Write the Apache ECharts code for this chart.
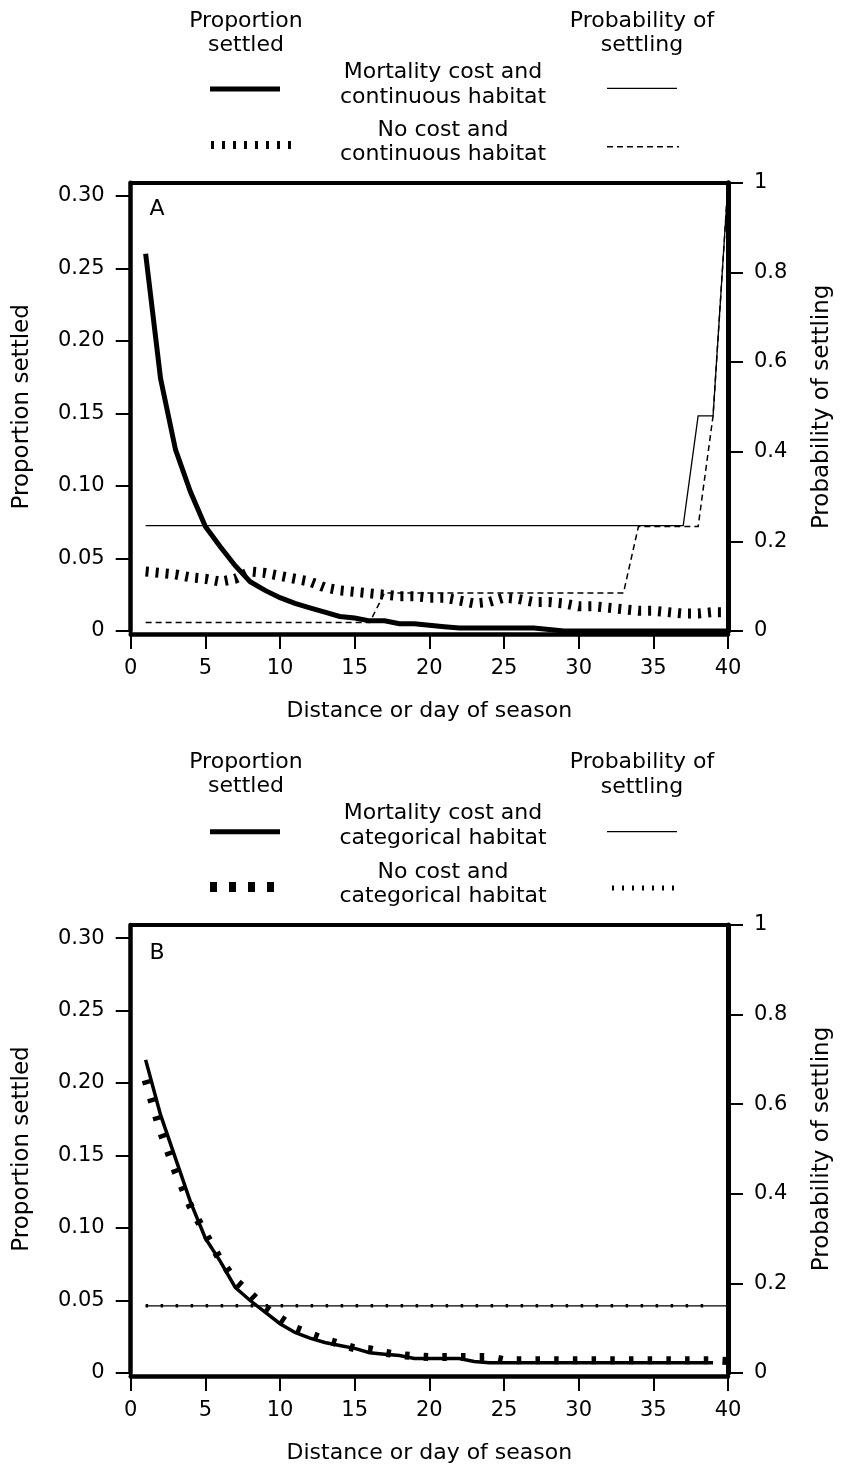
<!DOCTYPE html>
<html>
<head>
<meta charset="utf-8">
<script src="https://cdn.jsdelivr.net/npm/echarts@6/dist/echarts.min.js"></script>
<style>
html,body{margin:0;padding:0;background:#fff;}
#chart{width:842px;height:1471px;}
</style>
</head>
<body>
<div id="chart"></div>
<script>
// ---------- data ----------
const days = [1,2,3,4,5,6,7,8,9,10,11,12,13,14,15,16,17,18,19,20,21,22,23,24,25,26,27,28,29,30,31,32,33,34,35,36,37,38,39,40];

// Panel A (continuous habitat)
const aMortalityProportion = [0.260,0.174,0.125,0.096,0.072,0.058,0.045,0.034,0.028,0.023,0.019,0.016,0.013,0.010,0.009,0.007,0.007,0.005,0.005,0.004,0.003,0.002,0.002,0.002,0.002,0.002,0.002,0.001,0,0,0,0,0,0,0,0,0,0,0,0];
const aNoCostProportion = [0.041,0.040,0.039,0.037,0.036,0.034,0.036,0.041,0.040,0.038,0.036,0.034,0.030,0.028,0.027,0.026,0.025,0.024,0.024,0.023,0.023,0.021,0.019,0.020,0.023,0.022,0.020,0.020,0.019,0.017,0.017,0.016,0.015,0.014,0.014,0.013,0.012,0.012,0.013,0.013];
const aMortalityProbability = [0.235,0.235,0.235,0.235,0.235,0.235,0.235,0.235,0.235,0.235,0.235,0.235,0.235,0.235,0.235,0.235,0.235,0.235,0.235,0.235,0.235,0.235,0.235,0.235,0.235,0.235,0.235,0.235,0.235,0.235,0.235,0.235,0.235,0.235,0.235,0.235,0.235,0.48,0.48,1.0];
const aNoCostProbability = [0.019,0.019,0.019,0.019,0.019,0.019,0.019,0.019,0.019,0.019,0.019,0.019,0.019,0.019,0.019,0.019,0.085,0.085,0.085,0.085,0.085,0.085,0.085,0.085,0.085,0.085,0.085,0.085,0.085,0.085,0.085,0.085,0.085,0.233,0.233,0.233,0.233,0.233,0.48,1.0];

// Panel B (categorical habitat)
const bMortalityProportion = [0.216,0.178,0.148,0.118,0.093,0.077,0.059,0.050,0.042,0.034,0.028,0.024,0.021,0.019,0.017,0.014,0.013,0.012,0.010,0.010,0.010,0.010,0.008,0.007,0.007,0.007,0.007,0.007,0.007,0.007,0.007,0.007,0.007,0.007,0.007,0.007,0.007,0.007,0.007];
const bNoCostProportion = [0.202,0.167,0.139,0.115,0.096,0.078,0.064,0.055,0.045,0.038,0.031,0.027,0.023,0.020,0.017,0.0164,0.014,0.0125,0.0115,0.011,0.011,0.011,0.011,0.011,0.0088,0.0088,0.0088,0.0088,0.0088,0.0088,0.0088,0.0088,0.0088,0.0088,0.0088,0.0088,0.0088,0.0088,0.0088,0.0082];
const bMortalityProbability = [0.15,0.15,0.15,0.15,0.15,0.15,0.15,0.15,0.15,0.15,0.15,0.15,0.15,0.15,0.15,0.15,0.15,0.15,0.15,0.15,0.15,0.15,0.15,0.15,0.15,0.15,0.15,0.15,0.15,0.15,0.15,0.15,0.15,0.15,0.15,0.15,0.15,0.15,0.15,0.15];
const bNoCostProbability = [0.15,0.15,0.15,0.15,0.15,0.15,0.15,0.15,0.15,0.15,0.15,0.15,0.15,0.15,0.15,0.15,0.15,0.15,0.15,0.15,0.15,0.15,0.15,0.15,0.15,0.15,0.15,0.15,0.15,0.15,0.15,0.15,0.15,0.15,0.15,0.15,0.15,0.15,0.15];

// ticks
const xTicks = [0,5,10,15,20,25,30,35,40];
const leftTicks = [0,0.05,0.10,0.15,0.20,0.25,0.30];
const leftTickLabels = ['0','0.05','0.10','0.15','0.20','0.25','0.30'];
const rightTicks = [0,0.2,0.4,0.6,0.8,1];
const rightTickLabels = ['0','0.2','0.4','0.6','0.8','1'];

const xTitle = 'Distance or day of season';
const leftTitle = 'Proportion settled';
const rightTitle = 'Probability of settling';

// ---------- chart ----------
const FONT = 'DejaVu Sans';
const pairs = (vals) => vals.map((v, i) => [days[i], v]);
const lookup = (ticks, labels) => (v) => {
  const i = ticks.findIndex(t => Math.abs(t - v) < 1e-9);
  return i >= 0 ? labels[i] : '';
};

const grids = [
  {left: 130.7, top: 182.7, width: 600, height: 448.3},
  {left: 130.7, top: 925, width: 600, height: 448}
];

function bottomX(gi) {
  return {
    gridIndex: gi, type: 'value', min: 0, max: 40, interval: 5, position: 'bottom', offset: 3,
    axisLine: {show: true, onZero: false, lineStyle: {color: '#000', width: 4.5}},
    axisTick: {show: true, inside: false, length: 15, lineStyle: {color: '#000', width: 2}},
    axisLabel: {show: true, margin: 24, color: '#000', fontFamily: FONT, fontSize: 21,
      customValues: xTicks, formatter: (v) => String(v)},
    splitLine: {show: false},
    name: xTitle, nameLocation: 'middle', nameGap: 66,
    nameTextStyle: {color: '#000', fontFamily: FONT, fontSize: 22}
  };
}
function topX(gi) {
  return {
    gridIndex: gi, type: 'value', min: 0, max: 40, position: 'top',
    axisLine: {show: true, onZero: false, lineStyle: {color: '#000', width: 4}},
    axisTick: {show: false}, axisLabel: {show: false}, splitLine: {show: false}
  };
}
function leftY(gi) {
  return {
    gridIndex: gi, type: 'value', min: 0, max: 0.309, position: 'left',
    axisLine: {show: true, onZero: false, lineStyle: {color: '#000', width: 4.5}},
    axisTick: {show: true, inside: false, length: 15, customValues: leftTicks, lineStyle: {color: '#000', width: 2}},
    axisLabel: {show: true, margin: 26, color: '#000', fontFamily: FONT, fontSize: 21,
      customValues: leftTicks, formatter: lookup(leftTicks, leftTickLabels)},
    splitLine: {show: false},
    name: leftTitle, nameLocation: 'middle', nameGap: 97,
    nameTextStyle: {color: '#000', fontFamily: FONT, fontSize: 23}
  };
}
function rightY(gi) {
  return {
    gridIndex: gi, type: 'value', min: 0, max: 1, interval: 0.2, position: 'right',
    axisLine: {show: true, onZero: false, lineStyle: {color: '#000', width: 5}},
    axisTick: {show: true, inside: false, length: 15, lineStyle: {color: '#000', width: 2}},
    axisLabel: {show: true, margin: 26, color: '#000', fontFamily: FONT, fontSize: 21,
      customValues: rightTicks, formatter: lookup(rightTicks, rightTickLabels)},
    splitLine: {show: false},
    name: rightTitle, nameLocation: 'middle', nameGap: 83,
    nameTextStyle: {color: '#000', fontFamily: FONT, fontSize: 23}
  };
}

function line(name, data, xi, yi, style) {
  return {
    name, type: 'line', data: pairs(data), xAxisIndex: xi, yAxisIndex: yi,
    showSymbol: false, symbol: 'none', smooth: false, clip: true,
    lineStyle: Object.assign({color: '#000', cap: 'butt', join: 'miter'}, style),
    emphasis: {disabled: true}, z: 3
  };
}

function txt(text, x, y) {
  return {type: 'text', x, y, silent: true,
    style: {text, fill: '#000', font: '22px "' + FONT + '"', textAlign: 'center', textVerticalAlign: 'middle', align: 'center', verticalAlign: 'middle'}};
}
function seg(x1, y1, x2, y2, w, dash) {
  return {type: 'line', silent: true, shape: {x1, y1, x2, y2},
    style: {stroke: '#000', lineWidth: w, lineDash: dash || null, lineCap: 'butt'}};
}

const graphics = [
  // legend A
  txt('Proportion', 246, 21), txt('settled', 246, 45),
  txt('Probability of', 642, 21), txt('settling', 642, 45),
  txt('Mortality cost and', 443, 72), txt('continuous habitat', 443, 97),
  txt('No cost and', 443, 130), txt('continuous habitat', 443, 154),
  seg(210, 89, 280, 89, 5),
  seg(607, 88.3, 677, 88.3, 1.3),
  seg(211, 145, 294, 145, 8, [3, 8]),
  seg(607, 146.7, 679, 146.7, 1.5, [6, 4]),
  // legend B
  txt('Proportion', 246, 762), txt('settled', 246, 786),
  txt('Probability of', 642, 762), txt('settling', 642, 787),
  txt('Mortality cost and', 443, 813), txt('categorical habitat', 443, 838),
  txt('No cost and', 443, 872), txt('categorical habitat', 443, 896),
  seg(210, 831.7, 280, 831.7, 5),
  seg(607, 831.7, 677, 831.7, 1.3),
  seg(210, 887, 275, 887, 10, [7, 12]),
  seg(612, 888, 677, 888, 5, [2, 8]),
  // panel letters
  txt('A', 157, 209), txt('B', 157, 953)
];

const option = {
  animation: false,
  backgroundColor: '#fff',
  textStyle: {fontFamily: FONT},
  grid: grids,
  xAxis: [bottomX(0), topX(0), bottomX(1), topX(1)],
  yAxis: [leftY(0), rightY(0), leftY(1), rightY(1)],
  series: [
    line('Mortality cost and continuous habitat (proportion)', aMortalityProportion, 0, 0, {width: 5}),
    line('No cost and continuous habitat (proportion)', aNoCostProportion, 0, 0, {width: 10, type: [3, 7]}),
    line('Mortality cost and continuous habitat (probability)', aMortalityProbability, 0, 1, {width: 1.3}),
    line('No cost and continuous habitat (probability)', aNoCostProbability, 0, 1, {width: 1.5, type: [6, 4]}),
    line('Mortality cost and categorical habitat (proportion)', bMortalityProportion, 2, 2, {width: 3.5}),
    line('No cost and categorical habitat (proportion)', bNoCostProportion, 2, 2, {width: 8, type: [4.5, 14.2]}),
    line('Mortality cost and categorical habitat (probability)', bMortalityProbability, 2, 3, {width: 1.3}),
    line('No cost and categorical habitat (probability)', bNoCostProbability, 2, 3, {width: 3.5, type: [2.5, 12.5]})
  ],
  graphic: graphics
};

const chart = echarts.init(document.getElementById('chart'), null, {renderer: 'canvas'});
chart.setOption(option);
</script>
</body>
</html>
